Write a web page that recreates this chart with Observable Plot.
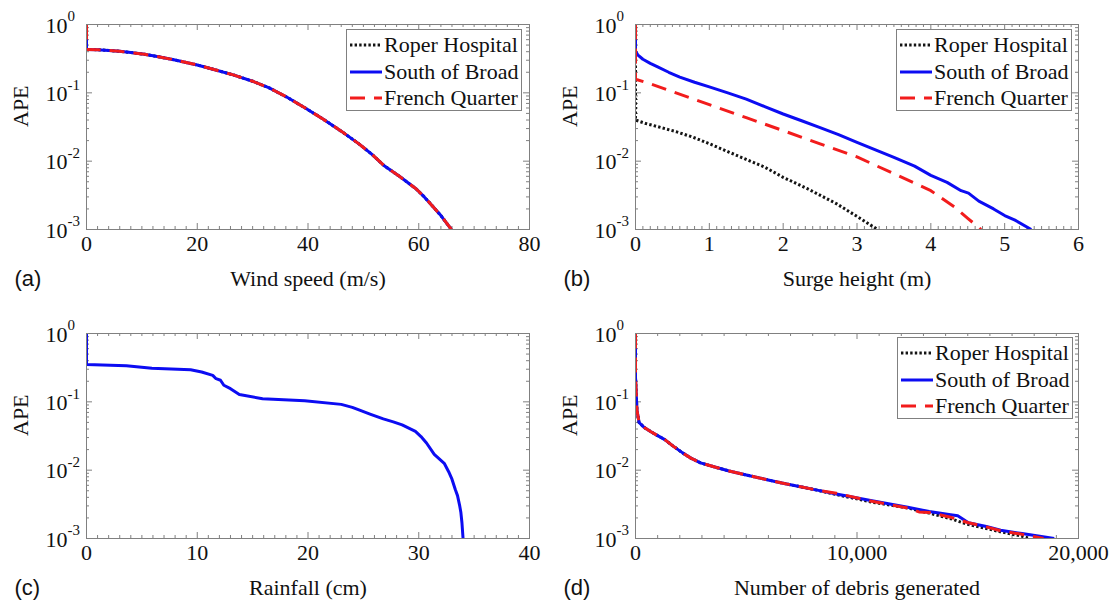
<!DOCTYPE html>
<html>
<head>
<meta charset="utf-8">
<script src="https://cdn.jsdelivr.net/npm/d3@7"></script>
<script src="https://cdn.jsdelivr.net/npm/@observablehq/plot@0.6"></script>
<style>
  html, body { margin: 0; padding: 0; background: #fff; }
  body { width: 1109px; height: 607px; position: relative; overflow: hidden; font-family: "Liberation Serif", "Times New Roman", serif; }
  .panel { position: absolute; }
  .legend { position: absolute; box-sizing: border-box; width: 176px; height: 82px; border: 1px solid #808080; background: #fff; padding-top: 2px; }
  .legend .row { display: flex; align-items: center; height: 26.5px; font-size: 22px; color: #111; line-height: 1; white-space: nowrap; font-family: "Liberation Serif", "Times New Roman", serif; }
  .legend svg { display: block; margin-left: 2px; margin-right: 1px; }
</style>
</head>
<body>
<script>
// ---------- data ----------
const seriesNames = ["Roper Hospital", "South of Broad", "French Quarter"];

const yMajorTicks = [1, 0.1, 0.01, 0.001];

// (a) wind speed — all three sites coincide
const windSpeed = [0, 0, 2, 4, 6, 8, 10.5, 13, 16, 20, 23, 26.5, 30, 33, 36.3, 39.5, 42.7, 46, 49.2, 51.5, 53.7, 56.5, 59.5, 61, 62.1, 64, 65.9];
const windAPE   = [1, 0.432, 0.428, 0.418, 0.405, 0.388, 0.366, 0.338, 0.302, 0.256, 0.220, 0.183, 0.148, 0.118, 0.0855, 0.060, 0.0414, 0.0275, 0.0179, 0.0127, 0.00865, 0.0060, 0.00395, 0.0030, 0.00239, 0.0016, 0.001];

// (b) surge height
const surgeRoperX = [0, 0, 0.14, 0.3, 0.55, 0.78, 1.0, 1.27, 1.5, 1.75, 2.0, 2.33, 2.72, 3.01, 3.28];
const surgeRoperY = [0.4, 0.04, 0.0355, 0.032, 0.027, 0.0224, 0.018, 0.0135, 0.0106, 0.00818, 0.0058, 0.00395, 0.00239, 0.00153, 0.001];
const surgeSouthX = [0, 0, 0.03, 0.1, 0.2, 0.3, 0.45, 0.6, 0.8, 1.0, 1.25, 1.5, 1.75, 2.0, 2.25, 2.5, 2.75, 3.0, 3.25, 3.5, 3.78, 4.0, 4.22, 4.41, 4.51, 4.65, 4.85, 5.0, 5.14, 5.36];
const surgeSouthY = [1, 0.41, 0.36, 0.31, 0.27, 0.24, 0.20, 0.17, 0.143, 0.122, 0.10, 0.081, 0.063, 0.049, 0.039, 0.031, 0.0245, 0.0189, 0.0146, 0.0114, 0.00845, 0.0062, 0.0049, 0.0037, 0.0034, 0.0026, 0.0020, 0.0016, 0.00137, 0.001];
const surgeFrenchX = [0, 0, 0.155, 0.5, 1.0, 1.5, 2.0, 2.5, 3.0, 3.5, 4.0, 4.32, 4.5, 4.68];
const surgeFrenchY = [1, 0.158, 0.141, 0.1045, 0.0671, 0.0433, 0.028, 0.0179, 0.01156, 0.00654, 0.0037, 0.00214, 0.00146, 0.001];

// (c) rainfall — single curve
const rainX = [0, 0, 3.6, 5.9, 9.4, 10.4, 11.4, 11.7, 12.1, 12.4, 13.0, 13.8, 15.9, 19.7, 23.0, 24.0, 24.6, 25.6, 26.8, 27.7, 28.5, 29.7, 30.2, 30.7, 31.4, 32.3, 32.7, 33.0, 33.3, 33.5, 33.7, 33.8, 33.9, 34.0];
const rainY = [1, 0.352, 0.337, 0.311, 0.294, 0.273, 0.244, 0.218, 0.207, 0.175, 0.156, 0.128, 0.111, 0.104, 0.0918, 0.083, 0.076, 0.066, 0.0563, 0.051, 0.0461, 0.0369, 0.031, 0.025, 0.017, 0.0126, 0.0095, 0.00738, 0.0052, 0.00424, 0.003, 0.00243, 0.0017, 0.001];

// (d) number of debris generated
const debrisRoperX = [0, 0, 65, 161, 400, 677, 1000, 1323, 1700, 2129, 2500, 2935, 3500, 4226, 5000, 5839, 6600, 7452, 8200, 9065, 10678, 12291, 13259, 14226, 15032, 15839, 16485, 17452, 17800];
const debrisRoperY = [1, 0.23, 0.076, 0.0499, 0.042, 0.0369, 0.032, 0.028, 0.0225, 0.0179, 0.015, 0.0128, 0.0113, 0.00973, 0.0085, 0.00737, 0.0065, 0.00571, 0.0051, 0.0044, 0.0034, 0.0028, 0.00235, 0.00195, 0.0016, 0.0014, 0.00125, 0.00108, 0.001];
const debrisSouthX = [0, 0, 65, 161, 400, 677, 1000, 1323, 1700, 2129, 2500, 2935, 3500, 4226, 5000, 5839, 6600, 7452, 8200, 9065, 10678, 12291, 13259, 14226, 14549, 15032, 15839, 16485, 17452, 18904];
const debrisSouthY = [1, 0.23, 0.076, 0.0499, 0.042, 0.0369, 0.032, 0.028, 0.0225, 0.0179, 0.015, 0.0128, 0.0113, 0.00973, 0.0085, 0.00737, 0.0065, 0.00571, 0.0051, 0.00448, 0.00358, 0.00287, 0.00248, 0.00222, 0.00215, 0.0017, 0.0015, 0.00132, 0.00118, 0.001];
const debrisFrenchX = [0, 0, 65, 161, 400, 677, 1000, 1323, 1700, 2129, 2500, 2935, 3500, 4226, 5000, 5839, 6600, 7452, 8200, 9065, 10678, 12291, 12800, 13259, 14226, 15032, 15839, 16485, 17452, 18420];
const debrisFrenchY = [1, 0.23, 0.076, 0.0499, 0.042, 0.0369, 0.032, 0.028, 0.0225, 0.0179, 0.015, 0.0128, 0.0113, 0.00973, 0.0085, 0.00737, 0.0065, 0.00571, 0.0051, 0.0046, 0.0035, 0.0028, 0.00245, 0.0024, 0.00205, 0.0017, 0.00148, 0.0013, 0.00115, 0.001];

// tick values
const windTicks = [0, 20, 40, 60, 80];
const surgeTicks = [0, 1, 2, 3, 4, 5, 6];
const rainTicks = [0, 10, 20, 30, 40];
const debrisTicks = [0, 10000, 20000];

// ---------- styles ----------
const STYLE = {
  frame: "#808080",
  text: "#111111",
  colors: ["#141414", "#0c0cf2", "#f21c1c"],
  dash: ["2.4,2.2", null, "15,9"],
  width: 3
};

const rows = (xs, ys) => xs.map((x, i) => ({x, y: ys[i]}));
const yMinorTicks = [];
for (let k = -3; k < 0; k++) for (let m = 2; m <= 9; m++) yMinorTicks.push(m * Math.pow(10, k));
const minorOf = (major, n) => {
  const out = [];
  for (let i = 0; i < major.length - 1; i++) {
    const a = major[i], b = major[i + 1];
    for (let j = 1; j < n; j++) out.push(a + (b - a) * j / n);
  }
  return out;
};

const H = 300, ML = 86, MT = 24, MB = 71;

function makePanel({left, top, width, mr, xDomain, xMajor, xMinorN, xFormat, xLabel, tag, series}) {
  const innerW = width - ML - mr, innerH = H - MT - MB;
  const xMinor = minorOf(xMajor, xMinorN);
  const tickStyle = {stroke: STYLE.frame, strokeWidth: 1};
  const marks = [
    Plot.tickX(xMinor, {x: d => d, insetTop: innerH - 3, ...tickStyle}),
    Plot.tickX(xMinor, {x: d => d, insetBottom: innerH - 3, ...tickStyle}),
    Plot.tickX(xMajor, {x: d => d, insetTop: innerH - 6, ...tickStyle}),
    Plot.tickX(xMajor, {x: d => d, insetBottom: innerH - 6, ...tickStyle}),
    Plot.tickY(yMinorTicks, {y: d => d, insetRight: innerW - 3, ...tickStyle}),
    Plot.tickY(yMinorTicks, {y: d => d, insetLeft: innerW - 3, ...tickStyle}),
    Plot.tickY(yMajorTicks, {y: d => d, insetRight: innerW - 6, ...tickStyle}),
    Plot.tickY(yMajorTicks, {y: d => d, insetLeft: innerW - 6, ...tickStyle})
  ];
  series.forEach(s => {
    marks.push(Plot.line(rows(s.x, s.y), {
      x: "x", y: "y", stroke: STYLE.colors[s.i], strokeWidth: STYLE.width,
      strokeDasharray: STYLE.dash[s.i], strokeLinecap: "butt", strokeLinejoin: "round", clip: true
    }));
  });
  marks.push(
    Plot.frame({stroke: STYLE.frame, strokeWidth: 1}),
    Plot.text(xMajor, {x: d => d, text: xFormat, frameAnchor: "bottom", dy: 21}),
    Plot.text(yMajorTicks, {y: d => d, text: () => "10", frameAnchor: "left", textAnchor: "end", dx: -19, dy: 1}),
    Plot.text(yMajorTicks, {y: d => d, text: d => String(Math.round(Math.log10(d))), frameAnchor: "left", textAnchor: "start", dx: -19, dy: -8, fontSize: 15}),
    Plot.text(["APE"], {frameAnchor: "left", dx: -66, rotate: -90}),
    Plot.text([xLabel], {frameAnchor: "bottom", dy: 56}),
    Plot.text([tag], {frameAnchor: "bottom-left", dx: -72, dy: 56, textAnchor: "start", fontFamily: "Liberation Sans, Arial, sans-serif"})
  );
  const chart = Plot.plot({
    width, height: H,
    marginLeft: ML, marginRight: mr, marginTop: MT, marginBottom: MB,
    x: {domain: xDomain, axis: null},
    y: {type: "log", domain: [0.001, 1], axis: null},
    style: {fontFamily: "Liberation Serif, Times New Roman, serif", fontSize: "22px", color: STYLE.text, background: "transparent", overflow: "visible", maxWidth: "none"},
    marks
  });
  const div = document.createElement("div");
  div.className = "panel";
  div.style.left = left + "px";
  div.style.top = top + "px";
  div.style.width = width + "px";
  div.appendChild(chart);
  document.body.appendChild(div);
}

function makeLegend(left, top) {
  const box = document.createElement("div");
  box.className = "legend";
  box.style.left = left + "px";
  box.style.top = top + "px";
  seriesNames.forEach((name, i) => {
    const row = document.createElement("div");
    row.className = "row";
    const ns = "http://www.w3.org/2000/svg";
    const svg = document.createElementNS(ns, "svg");
    svg.setAttribute("width", 34);
    svg.setAttribute("height", 8);
    const ln = document.createElementNS(ns, "line");
    ln.setAttribute("x1", 1); ln.setAttribute("x2", 33);
    ln.setAttribute("y1", 4); ln.setAttribute("y2", 4);
    ln.setAttribute("stroke", STYLE.colors[i]);
    ln.setAttribute("stroke-width", STYLE.width);
    if (STYLE.dash[i]) ln.setAttribute("stroke-dasharray", STYLE.dash[i]);
    svg.appendChild(ln);
    const span = document.createElement("span");
    span.textContent = name;
    row.appendChild(svg);
    row.appendChild(span);
    box.appendChild(row);
  });
  document.body.appendChild(box);
}

const fmtPlain = d => String(d);
const fmtComma = d3.format(",");

makePanel({left: 0, top: 0, width: 556, mr: 27, xDomain: [0, 80], xMajor: windTicks, xMinorN: 10, xFormat: fmtPlain,
  xLabel: "Wind speed (m/s)", tag: "(a)",
  series: [{i: 0, x: windSpeed, y: windAPE}, {i: 1, x: windSpeed, y: windAPE}, {i: 2, x: windSpeed, y: windAPE}]});
makePanel({left: 549, top: 0, width: 560, mr: 31, xDomain: [0, 6], xMajor: surgeTicks, xMinorN: 10, xFormat: fmtPlain,
  xLabel: "Surge height (m)", tag: "(b)",
  series: [{i: 0, x: surgeRoperX, y: surgeRoperY}, {i: 1, x: surgeSouthX, y: surgeSouthY}, {i: 2, x: surgeFrenchX, y: surgeFrenchY}]});
makePanel({left: 0, top: 309, width: 556, mr: 27, xDomain: [0, 40], xMajor: rainTicks, xMinorN: 10, xFormat: fmtPlain,
  xLabel: "Rainfall (cm)", tag: "(c)",
  series: [{i: 1, x: rainX, y: rainY}]});
makePanel({left: 549, top: 309, width: 560, mr: 31, xDomain: [0, 20000], xMajor: debrisTicks, xMinorN: 10, xFormat: fmtComma,
  xLabel: "Number of debris generated", tag: "(d)",
  series: [{i: 0, x: debrisRoperX, y: debrisRoperY}, {i: 1, x: debrisSouthX, y: debrisSouthY}, {i: 2, x: debrisFrenchX, y: debrisFrenchY}]});

makeLegend(346, 29);
makeLegend(896, 29);
makeLegend(897, 337);
</script>
</body>
</html>
